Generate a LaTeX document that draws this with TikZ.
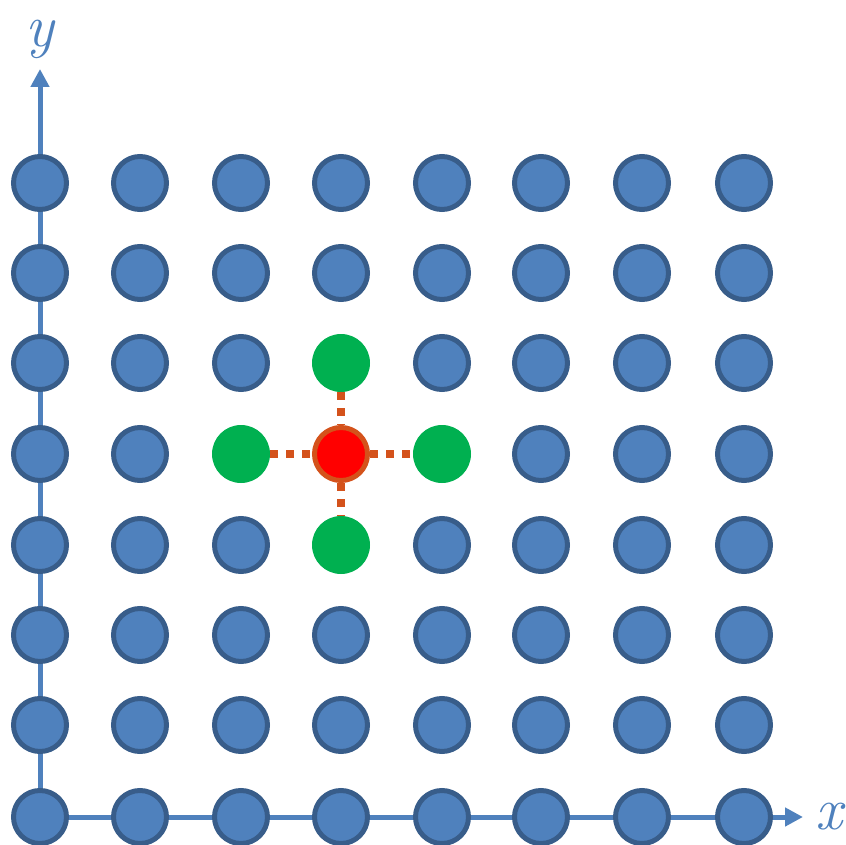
\documentclass[tikz,border=0pt]{standalone}
\usepackage{xcolor}
\usepackage{tikz}
\usetikzlibrary{arrows.meta,positioning}
\definecolor{ptfill}{HTML}{4F81BD}
\definecolor{ptline}{HTML}{385D8A}
\definecolor{nbrgreen}{HTML}{00B050}
\definecolor{nbrorange}{HTML}{D4521B}
\tikzset{
  ptnode/.style={
    circle, draw=ptline, fill=ptfill, line width=5pt,
    minimum size=53pt, inner sep=0pt
  },
  nbrnode/.style={circle, fill=nbrgreen, minimum size=58pt, inner sep=0pt},
  centernode/.style={ptnode, draw=nbrorange, fill=red},
  axisline/.style={-{Triangle[length=18pt,width=18pt]}, line width=5pt, draw=ptfill},
  nbrline/.style={line width=8pt, draw=nbrorange, dash pattern=on 8pt off 8pt},
  axislabel/.style={font=\fontsize{60}{70}\selectfont\itshape, text=ptfill, inner sep=0pt},
}
\begin{document}
\begin{tikzpicture}[x=1pt, y=-1pt]
  \useasboundingbox (0,0) rectangle (846,845);
  % axes
  \coordinate (o) at (40,817);
  \coordinate (xtip) at (803,817);
  \coordinate (ytip) at (40,69);
  \draw[axisline] (o) -- (xtip);
  \draw[axisline] (o) -- (ytip);
  \node (xlab) [axislabel, right=12pt of xtip] {x};
  \node (ylab) [axislabel] at (40,39) {y};
  % lattice points
  \foreach \x [count=\i] in {40,140,241,341,442,541,642,744}
    \foreach \y [count=\j] in {817,725,635,545,454,363,273,183} {
      \pgfmathtruncatemacro\near{abs(\i-4)+abs(\j-5)<=1}
      \ifnum\near=0 \node (p-\i-\j) [ptnode] at (\x,\y) {}; \fi
    }
  % point and its neighbours
  \node (p-4-5) [centernode] at (341,454) {};
  \node (p-3-5) [nbrnode] at (241,454) {};
  \node (p-5-5) [nbrnode] at (442,454) {};
  \node (p-4-6) [nbrnode] at (341,363) {};
  \node (p-4-4) [nbrnode] at (341,545) {};
  \draw[nbrline] (p-3-5) -- (p-4-5); \draw[nbrline] (p-4-5) -- (p-5-5);
  \draw[nbrline] (p-4-6) -- (p-4-5); \draw[nbrline] (p-4-5) -- (p-4-4);
\end{tikzpicture}
\end{document}
